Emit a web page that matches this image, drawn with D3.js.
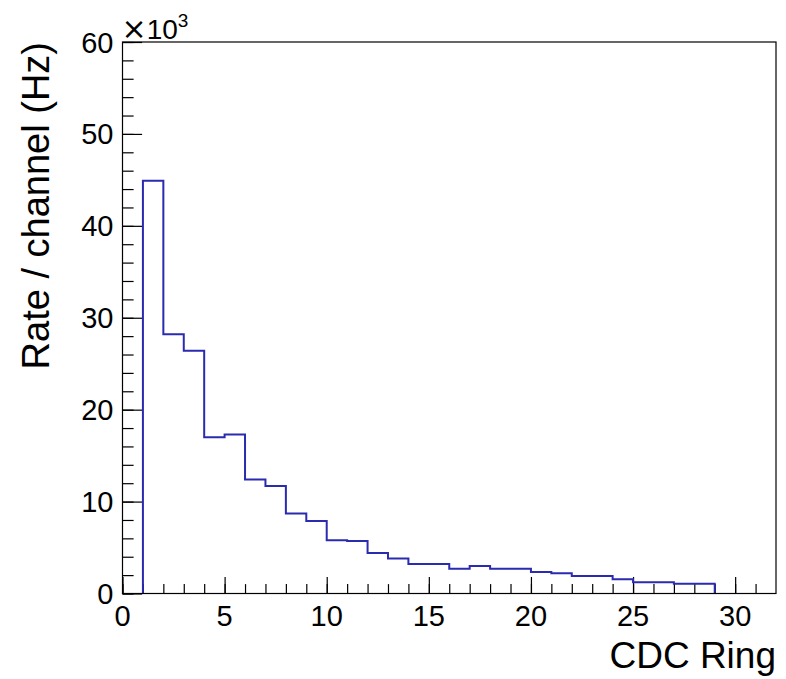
<!DOCTYPE html>
<html lang="en">
<head>
<meta charset="UTF-8">
<title>CDC Ring rate</title>
<script src="https://d3js.org/d3.v7.min.js"></script>
<style>
    body { margin: 0; background: #fff; }
    svg { font-family: "Liberation Sans", Arial, sans-serif; }
    .frame { fill: none; stroke: #000; stroke-width: 1.2px; }
    .tick line { stroke: #000; stroke-width: 1.2px; }
    .hist { fill: none; stroke: #2b2bb0; stroke-width: 2px; }
</style>
</head>
<body>
<div id="chart"></div>
<script>
    // bin lower edges (CDC ring) and rate per channel in units of 10^3 Hz
    const binEdges = [1, 2, 3, 4, 5, 6, 7, 8, 9, 10, 11, 12, 13, 14, 15, 16, 17, 18, 19, 20, 21, 22, 23, 24, 25, 26, 27, 28, 29];
    const rates = [44.9, 28.2, 26.4, 17.0, 17.3, 12.4, 11.7, 8.7, 7.9, 5.8, 5.7, 4.4, 3.8, 3.2, 3.2, 2.7, 3.0, 2.7, 2.7, 2.35, 2.2, 1.9, 1.9, 1.55, 1.22, 1.22, 1.07, 1.07];
    const xTicks = [0, 5, 10, 15, 20, 25, 30];
    const yTicks = [0, 10, 20, 30, 40, 50, 60];

    const width = 786, height = 679;
    const margin = {left: 122.5, right: 10, top: 42, bottom: 85.5};

    const svg = d3.select("#chart").append("svg")
        .attr("width", width)
        .attr("height", height);

    const x = d3.scaleLinear().domain([0, 32]).range([margin.left, width - margin.right]);
    const y = d3.scaleLinear().domain([0, 60]).range([height - margin.bottom, margin.top]);

    const plotH = y(0) - y(60);
    const plotW = x(32) - x(0);

    // minor ticks first, majors on top
    svg.append("g")
        .attr("transform", `translate(0,${y(0)})`)
        .call(d3.axisTop(x).tickValues(d3.range(0, 32, 1)).tickSize(plotH * 0.017).tickFormat(""))
        .call(g => g.select(".domain").remove());
    svg.append("g")
        .attr("transform", `translate(0,${y(0)})`)
        .call(d3.axisTop(x).tickValues(xTicks).tickSize(plotH * 0.03).tickFormat(""))
        .call(g => g.select(".domain").remove());

    svg.append("g")
        .attr("transform", `translate(${x(0)},0)`)
        .call(d3.axisRight(y).tickValues(d3.range(0, 61, 2)).tickSize(plotW * 0.017).tickFormat(""))
        .call(g => g.select(".domain").remove());
    svg.append("g")
        .attr("transform", `translate(${x(0)},0)`)
        .call(d3.axisRight(y).tickValues(yTicks).tickSize(plotW * 0.03).tickFormat(""))
        .call(g => g.select(".domain").remove());

    // tick labels
    svg.append("g").selectAll("text")
        .data(xTicks)
        .join("text")
        .attr("x", d => x(d))
        .attr("y", y(0) + 32)
        .attr("text-anchor", "middle")
        .attr("font-size", 29)
        .text(d => d);

    svg.append("g").selectAll("text")
        .data(yTicks)
        .join("text")
        .attr("x", x(0) - 9)
        .attr("y", d => y(d) + 10.5)
        .attr("text-anchor", "end")
        .attr("font-size", 29)
        .text(d => d);

    // exponent label
    const expo = svg.append("text")
        .attr("x", x(0) - 1)
        .attr("y", y(60) - 3)
        .attr("font-size", 28);
    expo.append("tspan").attr("font-family", "DejaVu Sans").attr("font-size", 30).text("\u00d7");
    expo.append("tspan").text("10");
    expo.append("tspan").attr("font-size", 19).attr("dy", -12).text("3");

    // histogram outline
    const pts = [[binEdges[0], 0]];
    rates.forEach((r, i) => {
        pts.push([binEdges[i], r]);
        pts.push([binEdges[i + 1], r]);
    });
    pts.push([binEdges[binEdges.length - 1], 0]);

    svg.append("path")
        .attr("class", "hist")
        .attr("d", d3.line().x(d => x(d[0])).y(d => y(d[1]))(pts));

    // frame
    svg.append("rect")
        .attr("class", "frame")
        .attr("x", x(0))
        .attr("y", y(60))
        .attr("width", plotW)
        .attr("height", plotH);

    // axis titles
    svg.append("text")
        .attr("x", x(32))
        .attr("y", 668)
        .attr("text-anchor", "end")
        .attr("font-size", 37)
        .text("CDC Ring");

    svg.append("text")
        .attr("transform", `translate(49,${y(60)}) rotate(-90)`)
        .attr("text-anchor", "end")
        .attr("font-size", 38)
        .text("Rate / channel (Hz)");
</script>
</body>
</html>
